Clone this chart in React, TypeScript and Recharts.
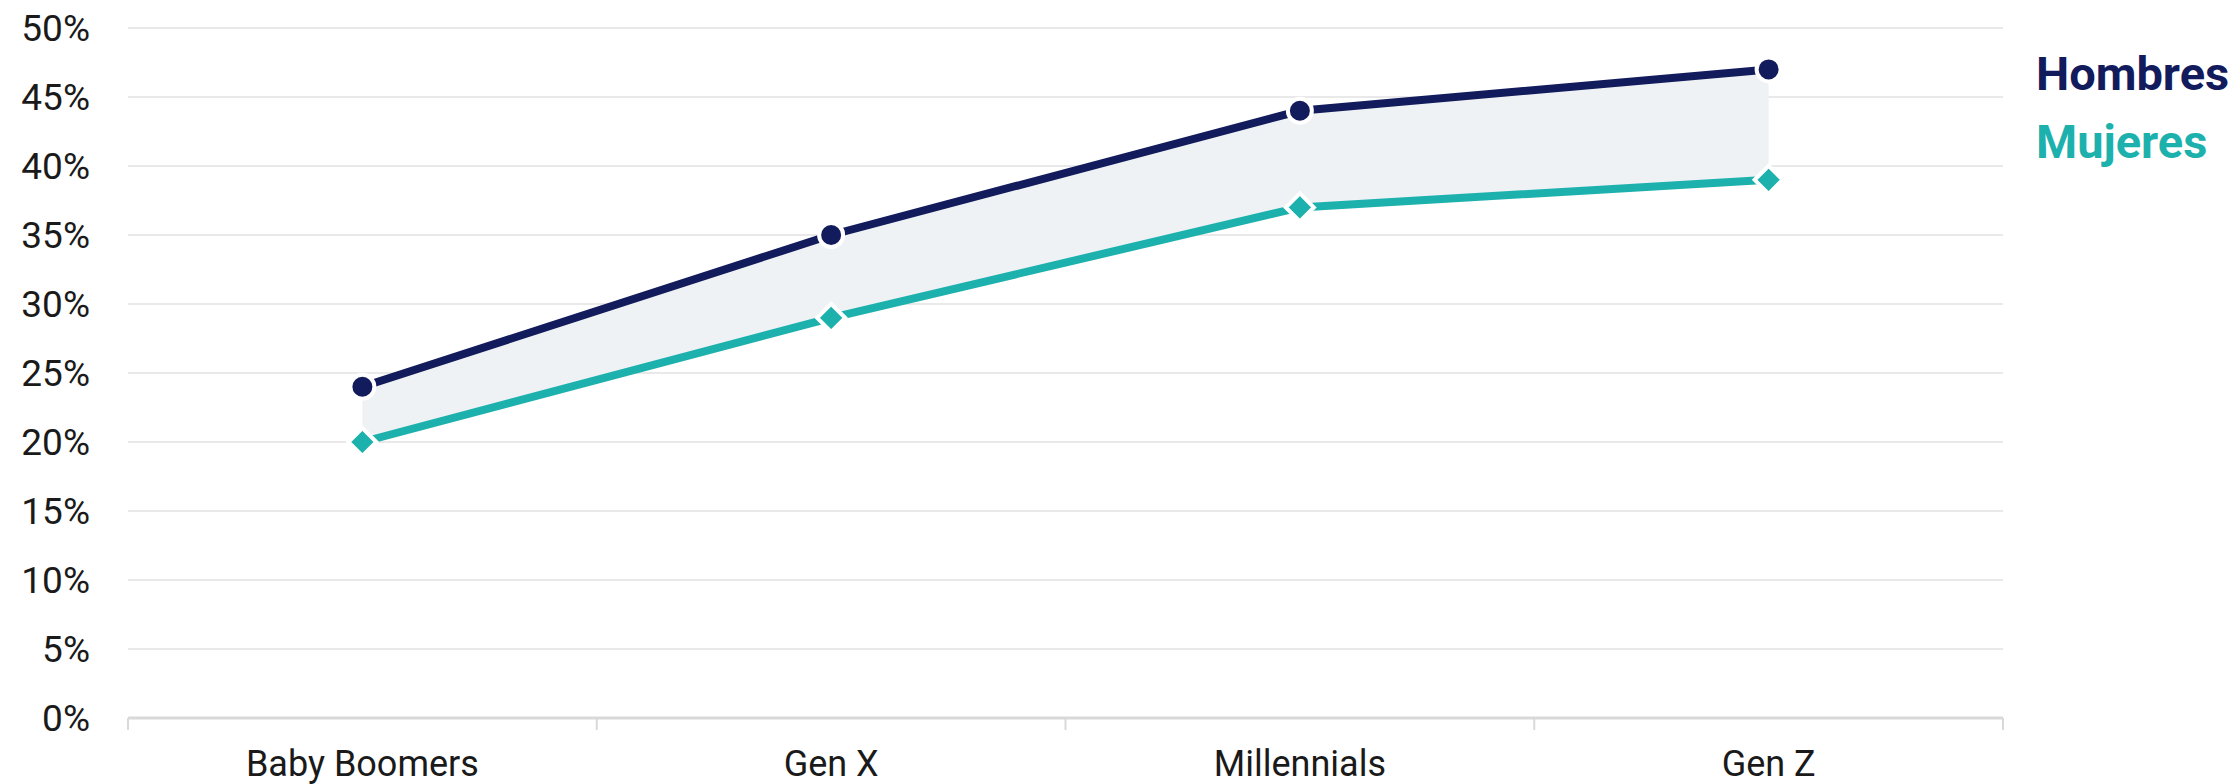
import React from "react";
import { Area, CartesianGrid, ComposedChart, Line, XAxis, YAxis } from "recharts";

const GENERATIONS = ["Baby Boomers", "Gen X", "Millennials", "Gen Z"];
const HOMBRES = [24, 35, 44, 47];
const MUJERES = [20, 29, 37, 39];
const Y_TICKS = [0, 5, 10, 15, 20, 25, 30, 35, 40, 45, 50];

const NAVY = "#121B5B";
const TEAL = "#1DB1AD";
const GRID = "#E2E2E2";
const AXIS = "#D9D9D9";
const TEXT = "#1A1A1A";
const FONT = "Roboto, 'Noto Sans', sans-serif";

const W = 2233;
const H = 784;
const MARGIN = { top: 28, right: 230, bottom: 0, left: 0 };
const Y_WIDTH = 128;
const X_HEIGHT = 66;
const PLOT_W = W - MARGIN.left - MARGIN.right - Y_WIDTH;
const HALF_BAND = PLOT_W / GENERATIONS.length / 2;

const data = GENERATIONS.map((g, i) => ({
  name: g,
  hombres: HOMBRES[i],
  mujeres: MUJERES[i],
  gap: [MUJERES[i], HOMBRES[i]],
}));

// ticks sit on the band edges, labels in the middle
function CategoryTick(props: any) {
  const { x, y, payload, index } = props;
  const axisY = y - 32;
  const last = index === GENERATIONS.length - 1;
  return (
    <g>
      <line x1={x - HALF_BAND} x2={x - HALF_BAND} y1={axisY} y2={axisY + 12} stroke={AXIS} strokeWidth={2} />
      {last && <line x1={x + HALF_BAND} x2={x + HALF_BAND} y1={axisY} y2={axisY + 12} stroke={AXIS} strokeWidth={2} />}
      <text x={x} y={y + 26} textAnchor="middle" fill={TEXT} fontSize={36} fontFamily={FONT}>
        {payload.value}
      </text>
    </g>
  );
}

function Diamond(props: any) {
  const { cx, cy, index } = props;
  if (cx == null || cy == null) return null;
  const r = 14;
  return (
    <polygon
      key={`d-${index}`}
      points={`${cx},${cy - r} ${cx + r},${cy} ${cx},${cy + r} ${cx - r},${cy}`}
      fill={TEAL}
      stroke="#FFFFFF"
      strokeWidth={4}
    />
  );
}

export default function App() {
  return (
    <div style={{ position: "absolute", left: 0, top: 0, width: W, height: H, background: "#FFFFFF" }}>
      <ComposedChart width={W} height={H} data={data} margin={MARGIN}>
        <CartesianGrid stroke={GRID} strokeWidth={1.5} vertical={false} />
        <XAxis
          dataKey="name"
          scale="band"
          height={X_HEIGHT}
          axisLine={{ stroke: AXIS, strokeWidth: 3 }}
          tickLine={false}
          tickSize={12}
          tickMargin={20}
          tick={<CategoryTick />}
          interval={0}
        />
        <YAxis
          width={Y_WIDTH}
          domain={[0, 50]}
          ticks={Y_TICKS}
          tickFormatter={(v) => `${v}%`}
          axisLine={false}
          tickLine={false}
          tickSize={0}
          tickMargin={38}
          tick={{ fill: TEXT, fontSize: 37, fontFamily: FONT }}
        />
        <Area
          dataKey="gap"
          stroke="none"
          fill="#EEF2F5"
          fillOpacity={1}
          activeDot={false}
          legendType="none"
          isAnimationActive={false}
        />
        <Line
          dataKey="mujeres"
          stroke={TEAL}
          strokeWidth={8}
          dot={<Diamond />}
          activeDot={false}
          isAnimationActive={false}
        />
        <Line
          dataKey="hombres"
          stroke={NAVY}
          strokeWidth={8}
          dot={{ r: 12, fill: NAVY, stroke: "#FFFFFF", strokeWidth: 4 }}
          activeDot={false}
          isAnimationActive={false}
        />
      </ComposedChart>
      <div
        style={{
          position: "absolute",
          left: 2036,
          top: 40,
          fontFamily: FONT,
          fontWeight: 700,
          fontSize: 47,
          lineHeight: "68px",
          whiteSpace: "nowrap",
        }}
      >
        <div style={{ color: NAVY }}>Hombres</div>
        <div style={{ color: TEAL }}>Mujeres</div>
      </div>
    </div>
  );
}
